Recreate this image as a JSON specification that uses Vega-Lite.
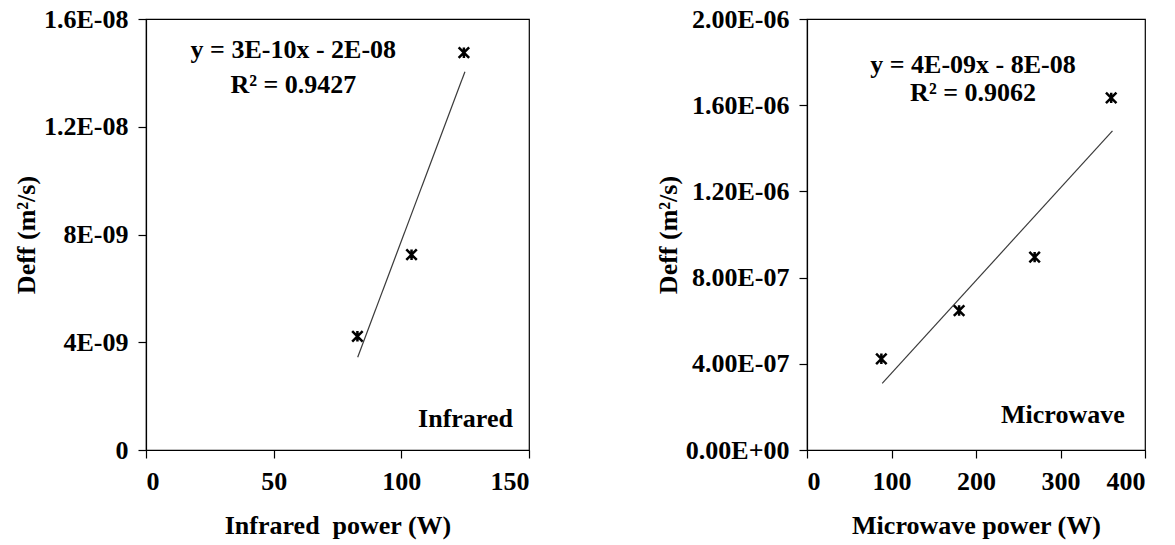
{
  "$schema": "https://vega.github.io/schema/vega-lite/v6.json",
  "background": "white",
  "padding": {"left": 12, "top": 5, "right": 5, "bottom": 5},
  "spacing": 123,
  "datasets": {
    "ir_points": [
      {"power": 82.8, "deff": 4.22e-9},
      {"power": 104, "deff": 7.25e-9},
      {"power": 124.5, "deff": 1.475e-8}
    ],
    "ir_trend": [
      {"power": 82.9, "deff": 3.44e-9},
      {"power": 124.9, "deff": 1.404e-8}
    ],
    "ir_text": [
      {"power": 57.7, "deff": 1.454e-8, "label": "y = 3E-10x - 2E-08"},
      {"power": 57.7, "deff": 1.324e-8, "label": "R² = 0.9427"}
    ],
    "ir_name": [
      {"power": 143.7, "deff": 0.84e-9, "label": "Infrared"}
    ],
    "mw_points": [
      {"power": 88, "deff": 4.23e-7},
      {"power": 180, "deff": 6.47e-7},
      {"power": 269.4, "deff": 8.95e-7},
      {"power": 360, "deff": 1.634e-6}
    ],
    "mw_trend": [
      {"power": 89, "deff": 3.09e-7},
      {"power": 361.5, "deff": 1.481e-6}
    ],
    "mw_text": [
      {"power": 196.5, "deff": 1.748e-6, "label": "y = 4E-09x - 8E-08"},
      {"power": 196.5, "deff": 1.621e-6, "label": "R² = 0.9062"}
    ],
    "mw_name": [
      {"power": 376, "deff": 1.25e-7, "label": "Microwave"}
    ]
  },
  "hconcat": [
    {
      "width": 383,
      "height": 431,
      "encoding": {
        "x": {"field": "power", "type": "quantitative", "scale": {"domain": [0, 150], "nice": false},
              "axis": {"values": [0, 50, 100, 150], "title": "Infrared\u00a0 power (W)"}},
        "y": {"field": "deff", "type": "quantitative", "scale": {"domain": [0, 1.6e-8], "nice": false},
              "axis": {"values": [0, 4e-9, 8e-9, 1.2e-8, 1.6e-8], "title": "Deff (m²/s)",
                       "labelExpr": "datum.value == 0 ? '0' : (datum.value < 1e-8 ? format(datum.value * 1e9, '.0f') + 'E-09' : format(datum.value * 1e8, '.1f') + 'E-08')"}}
      },
      "layer": [
        {"data": {"name": "ir_trend"}, "mark": {"type": "line", "stroke": "#3a3a3a", "strokeWidth": 1.2}},
        {"data": {"name": "ir_points"}, "mark": {"type": "point", "shape": "M-1,-1L1,1M-1,1L1,-1M0,-1L0,1", "filled": false, "stroke": "black", "strokeWidth": 2.5, "size": 110, "opacity": 1}},
        {"data": {"name": "ir_text"}, "mark": {"type": "text", "font": "Liberation Serif", "fontWeight": "bold", "fontSize": 26, "align": "center", "baseline": "alphabetic", "color": "black"},
         "encoding": {"text": {"field": "label"}}},
        {"data": {"name": "ir_name"}, "mark": {"type": "text", "font": "Liberation Serif", "fontWeight": "bold", "fontSize": 26, "align": "right", "baseline": "alphabetic", "color": "black"},
         "encoding": {"text": {"field": "label"}}}
      ]
    },
    {
      "width": 338,
      "height": 431,
      "encoding": {
        "x": {"field": "power", "type": "quantitative", "scale": {"domain": [0, 400], "nice": false},
              "axis": {"values": [0, 100, 200, 300, 400], "title": "Microwave power (W)"}},
        "y": {"field": "deff", "type": "quantitative", "scale": {"domain": [0, 2e-6], "nice": false},
              "axis": {"values": [0, 4e-7, 8e-7, 1.2e-6, 1.6e-6, 2e-6], "title": "Deff (m²/s)",
                       "labelExpr": "datum.value == 0 ? '0.00E+00' : (datum.value < 1e-6 ? format(datum.value * 1e7, '.2f') + 'E-07' : format(datum.value * 1e6, '.2f') + 'E-06')"}}
      },
      "layer": [
        {"data": {"name": "mw_trend"}, "mark": {"type": "line", "stroke": "#3a3a3a", "strokeWidth": 1.2}},
        {"data": {"name": "mw_points"}, "mark": {"type": "point", "shape": "M-1,-1L1,1M-1,1L1,-1M0,-1L0,1", "filled": false, "stroke": "black", "strokeWidth": 2.5, "size": 110, "opacity": 1}},
        {"data": {"name": "mw_text"}, "mark": {"type": "text", "font": "Liberation Serif", "fontWeight": "bold", "fontSize": 26, "align": "center", "baseline": "alphabetic", "color": "black"},
         "encoding": {"text": {"field": "label"}}},
        {"data": {"name": "mw_name"}, "mark": {"type": "text", "font": "Liberation Serif", "fontWeight": "bold", "fontSize": 26, "align": "right", "baseline": "alphabetic", "color": "black"},
         "encoding": {"text": {"field": "label"}}}
      ]
    }
  ],
  "config": {
    "view": {"stroke": "black", "strokeWidth": 1.2},
    "axis": {
      "grid": false,
      "domainColor": "black",
      "domainWidth": 1.2,
      "tickColor": "black",
      "tickWidth": 1.2,
      "tickSize": 8,
      "labelFont": "Liberation Serif",
      "labelFontWeight": "bold",
      "labelFontSize": 26,
      "labelColor": "black",
      "labelPadding": 8,
      "titleFont": "Liberation Serif",
      "titleFontWeight": "bold",
      "titleFontSize": 26,
      "titleColor": "black"
    },
    "axisY": {"titlePadding": 4, "labelPadding": 10},
    "axisX": {"titlePadding": 18, "labelPadding": 10}
  }
}
